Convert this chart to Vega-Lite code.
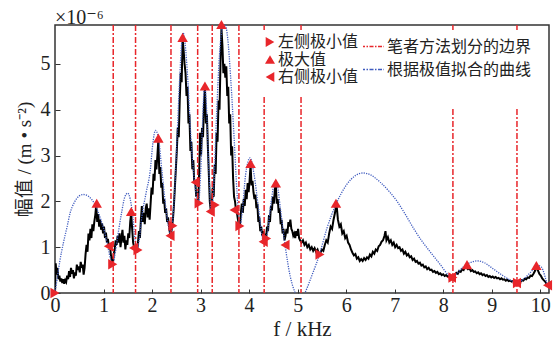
{
 "$schema": "https://vega.github.io/schema/vega-lite/v6.json",
 "width": 494, "height": 268,
 "autosize": {"type": "none"},
 "padding": {"left": 55, "top": 25, "right": 5, "bottom": 49},
 "background": "white",
 "title": {"text": "×10⁻⁶", "anchor": "start", "frame": "group", "font": "'Liberation Serif', 'DejaVu Serif', serif", "fontSize": 20, "fontWeight": "normal", "offset": 4, "dy": 12, "color": "#222"},
 "config": {"view": {"stroke": "#333", "strokeWidth": 1.5}},
 "datasets": {
  "spec": [
{"f":0.0,"a":0.0},{"f":0.015,"a":0.65},{"f":0.03,"a":0.4},{"f":0.05,"a":0.55},{"f":0.07,"a":0.3},{"f":0.09,"a":0.38},{"f":0.11,"a":0.25},{"f":0.13,"a":0.32},{"f":0.15,"a":0.22},{"f":0.17,"a":0.3},{"f":0.19,"a":0.2},{"f":0.21,"a":0.28},{"f":0.23,"a":0.24},{"f":0.25,"a":0.38},{"f":0.27,"a":0.3},{"f":0.29,"a":0.48},{"f":0.31,"a":0.35},{"f":0.33,"a":0.55},{"f":0.35,"a":0.42},{"f":0.37,"a":0.5},{"f":0.39,"a":0.32},{"f":0.41,"a":0.45},{"f":0.43,"a":0.38},{"f":0.45,"a":0.62},{"f":0.47,"a":0.5},{"f":0.49,"a":0.58},{"f":0.51,"a":0.45},{"f":0.53,"a":0.68},{"f":0.55,"a":0.55},{"f":0.57,"a":0.62},{"f":0.59,"a":0.4},{"f":0.61,"a":0.55},{"f":0.63,"a":0.85},{"f":0.65,"a":1.05},{"f":0.67,"a":0.9},{"f":0.69,"a":1.3},{"f":0.71,"a":1.15},{"f":0.73,"a":1.4},{"f":0.75,"a":1.2},{"f":0.77,"a":1.5},{"f":0.79,"a":1.35},{"f":0.81,"a":1.55},{"f":0.83,"a":1.7},{"f":0.85,"a":1.92},{"f":0.87,"a":1.55},{"f":0.89,"a":1.72},{"f":0.91,"a":1.45},{"f":0.93,"a":1.6},{"f":0.95,"a":1.38},{"f":0.97,"a":1.52},{"f":0.99,"a":1.3},{"f":1.01,"a":1.45},{"f":1.03,"a":1.2},{"f":1.05,"a":1.32},{"f":1.07,"a":1.1},{"f":1.09,"a":1.18},{"f":1.11,"a":1.02},{"f":1.13,"a":1.08},{"f":1.15,"a":0.85},{"f":1.17,"a":0.72},{"f":1.19,"a":0.62},{"f":1.21,"a":0.85},{"f":1.23,"a":0.95},{"f":1.25,"a":1.15},{"f":1.27,"a":1.05},{"f":1.29,"a":1.25},{"f":1.31,"a":1.1},{"f":1.33,"a":1.3},{"f":1.35,"a":1.0},{"f":1.37,"a":1.2},{"f":1.39,"a":1.38},{"f":1.41,"a":1.1},{"f":1.43,"a":1.25},{"f":1.45,"a":0.95},{"f":1.47,"a":1.15},{"f":1.49,"a":1.05},{"f":1.51,"a":1.3},{"f":1.53,"a":1.2},{"f":1.55,"a":1.55},{"f":1.57,"a":1.75},{"f":1.59,"a":1.4},{"f":1.61,"a":1.1},{"f":1.63,"a":1.0},{"f":1.65,"a":0.92},{"f":1.67,"a":1.05},{"f":1.69,"a":0.9},{"f":1.71,"a":1.1},{"f":1.73,"a":1.35},{"f":1.75,"a":1.2},{"f":1.77,"a":1.6},{"f":1.79,"a":1.9},{"f":1.81,"a":1.55},{"f":1.83,"a":1.75},{"f":1.85,"a":1.5},{"f":1.87,"a":1.85},{"f":1.89,"a":1.95},{"f":1.91,"a":1.65},{"f":1.93,"a":1.85},{"f":1.95,"a":1.6},{"f":1.97,"a":1.95},{"f":1.99,"a":2.3},{"f":2.01,"a":2.15},{"f":2.03,"a":2.6},{"f":2.05,"a":2.45},{"f":2.07,"a":2.9},{"f":2.09,"a":2.7},{"f":2.11,"a":3.0},{"f":2.13,"a":3.35},{"f":2.15,"a":2.6},{"f":2.17,"a":2.75},{"f":2.19,"a":2.3},{"f":2.21,"a":2.4},{"f":2.23,"a":1.95},{"f":2.25,"a":2.05},{"f":2.27,"a":1.75},{"f":2.29,"a":1.85},{"f":2.31,"a":1.55},{"f":2.33,"a":1.65},{"f":2.35,"a":1.45},{"f":2.37,"a":1.3},{"f":2.39,"a":1.25},{"f":2.41,"a":1.45},{"f":2.43,"a":1.6},{"f":2.45,"a":1.9},{"f":2.47,"a":2.3},{"f":2.49,"a":2.7},{"f":2.51,"a":3.1},{"f":2.53,"a":3.6},{"f":2.55,"a":3.4},{"f":2.57,"a":4.2},{"f":2.59,"a":4.8},{"f":2.61,"a":4.6},{"f":2.63,"a":5.55},{"f":2.65,"a":5.3},{"f":2.67,"a":5.0},{"f":2.69,"a":4.8},{"f":2.71,"a":4.3},{"f":2.73,"a":4.5},{"f":2.75,"a":3.7},{"f":2.77,"a":3.9},{"f":2.79,"a":3.1},{"f":2.81,"a":3.3},{"f":2.83,"a":2.7},{"f":2.85,"a":2.9},{"f":2.87,"a":2.4},{"f":2.89,"a":2.45},{"f":2.91,"a":2.1},{"f":2.93,"a":2.2},{"f":2.95,"a":1.95},{"f":2.97,"a":2.6},{"f":2.99,"a":3.5},{"f":3.01,"a":3.0},{"f":3.03,"a":3.6},{"f":3.05,"a":3.4},{"f":3.07,"a":4.1},{"f":3.09,"a":4.48},{"f":3.11,"a":3.7},{"f":3.13,"a":3.9},{"f":3.15,"a":3.2},{"f":3.17,"a":2.6},{"f":3.19,"a":2.0},{"f":3.21,"a":1.8},{"f":3.23,"a":1.9},{"f":3.25,"a":2.3},{"f":3.27,"a":2.1},{"f":3.29,"a":2.8},{"f":3.31,"a":2.6},{"f":3.33,"a":3.5},{"f":3.35,"a":3.3},{"f":3.37,"a":4.2},{"f":3.39,"a":4.0},{"f":3.41,"a":5.0},{"f":3.43,"a":5.78},{"f":3.45,"a":5.4},{"f":3.47,"a":4.8},{"f":3.49,"a":5.0},{"f":3.51,"a":4.7},{"f":3.53,"a":4.95},{"f":3.55,"a":4.3},{"f":3.57,"a":4.5},{"f":3.59,"a":3.7},{"f":3.61,"a":3.9},{"f":3.63,"a":3.0},{"f":3.65,"a":3.2},{"f":3.67,"a":2.5},{"f":3.69,"a":2.1},{"f":3.71,"a":2.0},{"f":3.73,"a":1.8},{"f":3.75,"a":1.75},{"f":3.77,"a":1.6},{"f":3.79,"a":1.5},{"f":3.81,"a":1.45},{"f":3.83,"a":1.75},{"f":3.85,"a":1.95},{"f":3.87,"a":1.75},{"f":3.89,"a":2.05},{"f":3.91,"a":1.9},{"f":3.93,"a":2.25},{"f":3.95,"a":2.05},{"f":3.97,"a":2.4},{"f":3.99,"a":2.2},{"f":4.01,"a":2.45},{"f":4.03,"a":2.8},{"f":4.05,"a":2.35},{"f":4.07,"a":2.45},{"f":4.09,"a":2.2},{"f":4.11,"a":2.05},{"f":4.13,"a":2.15},{"f":4.15,"a":1.85},{"f":4.17,"a":1.95},{"f":4.19,"a":1.55},{"f":4.21,"a":1.65},{"f":4.23,"a":1.35},{"f":4.25,"a":1.45},{"f":4.27,"a":1.25},{"f":4.29,"a":1.35},{"f":4.31,"a":1.15},{"f":4.33,"a":1.25},{"f":4.35,"a":1.2},{"f":4.37,"a":1.45},{"f":4.39,"a":1.35},{"f":4.41,"a":1.7},{"f":4.43,"a":1.55},{"f":4.45,"a":1.9},{"f":4.47,"a":1.8},{"f":4.49,"a":2.1},{"f":4.51,"a":1.95},{"f":4.53,"a":2.25},{"f":4.55,"a":2.38},{"f":4.57,"a":1.95},{"f":4.59,"a":2.05},{"f":4.61,"a":1.75},{"f":4.63,"a":1.85},{"f":4.65,"a":1.5},{"f":4.67,"a":1.6},{"f":4.69,"a":1.3},{"f":4.71,"a":1.4},{"f":4.73,"a":1.15},{"f":4.75,"a":1.25},{"f":4.77,"a":1.4},{"f":4.79,"a":1.3},{"f":4.81,"a":1.55},{"f":4.83,"a":1.45},{"f":4.85,"a":1.6},{"f":4.87,"a":1.4},{"f":4.89,"a":1.35},{"f":4.91,"a":1.25},{"f":4.93,"a":1.3},{"f":4.95,"a":1.2},{"f":4.97,"a":1.35},{"f":4.99,"a":1.25},{"f":5.01,"a":1.4},{"f":5.03,"a":1.2},{"f":5.05,"a":1.15},{"f":5.08,"a":1.1},{"f":5.11,"a":1.15},{"f":5.14,"a":1.05},{"f":5.17,"a":1.1},{"f":5.2,"a":1.0},{"f":5.23,"a":1.05},{"f":5.26,"a":0.95},{"f":5.29,"a":1.0},{"f":5.32,"a":0.92},{"f":5.35,"a":0.98},{"f":5.38,"a":0.9},{"f":5.41,"a":0.95},{"f":5.44,"a":0.85},{"f":5.47,"a":0.88},{"f":5.5,"a":0.95},{"f":5.53,"a":0.92},{"f":5.56,"a":1.05},{"f":5.59,"a":1.15},{"f":5.62,"a":1.1},{"f":5.65,"a":1.3},{"f":5.68,"a":1.45},{"f":5.71,"a":1.4},{"f":5.74,"a":1.6},{"f":5.77,"a":1.75},{"f":5.8,"a":1.95},{"f":5.83,"a":1.6},{"f":5.86,"a":1.45},{"f":5.89,"a":1.5},{"f":5.92,"a":1.3},{"f":5.95,"a":1.35},{"f":5.98,"a":1.2},{"f":6.01,"a":1.25},{"f":6.04,"a":1.1},{"f":6.07,"a":1.05},{"f":6.1,"a":0.95},{"f":6.13,"a":0.88},{"f":6.16,"a":0.82},{"f":6.19,"a":0.85},{"f":6.22,"a":0.75},{"f":6.25,"a":0.78},{"f":6.28,"a":0.7},{"f":6.31,"a":0.74},{"f":6.34,"a":0.7},{"f":6.37,"a":0.76},{"f":6.4,"a":0.72},{"f":6.43,"a":0.78},{"f":6.46,"a":0.75},{"f":6.49,"a":0.84},{"f":6.52,"a":0.8},{"f":6.55,"a":0.9},{"f":6.58,"a":0.86},{"f":6.61,"a":0.95},{"f":6.64,"a":0.92},{"f":6.67,"a":1.02},{"f":6.7,"a":1.05},{"f":6.73,"a":1.12},{"f":6.76,"a":1.15},{"f":6.79,"a":1.25},{"f":6.81,"a":1.35},{"f":6.83,"a":1.15},{"f":6.86,"a":1.22},{"f":6.89,"a":1.1},{"f":6.92,"a":1.15},{"f":6.95,"a":1.05},{"f":6.98,"a":1.1},{"f":7.01,"a":1.0},{"f":7.04,"a":1.05},{"f":7.07,"a":0.98},{"f":7.1,"a":1.0},{"f":7.13,"a":0.92},{"f":7.16,"a":0.95},{"f":7.19,"a":0.86},{"f":7.22,"a":0.9},{"f":7.25,"a":0.82},{"f":7.28,"a":0.85},{"f":7.31,"a":0.78},{"f":7.34,"a":0.8},{"f":7.37,"a":0.72},{"f":7.4,"a":0.75},{"f":7.43,"a":0.68},{"f":7.46,"a":0.7},{"f":7.49,"a":0.64},{"f":7.52,"a":0.66},{"f":7.55,"a":0.6},{"f":7.58,"a":0.62},{"f":7.61,"a":0.56},{"f":7.64,"a":0.58},{"f":7.67,"a":0.52},{"f":7.7,"a":0.55},{"f":7.73,"a":0.5},{"f":7.76,"a":0.51},{"f":7.79,"a":0.46},{"f":7.82,"a":0.48},{"f":7.85,"a":0.44},{"f":7.88,"a":0.46},{"f":7.91,"a":0.41},{"f":7.94,"a":0.43},{"f":7.97,"a":0.39},{"f":8.0,"a":0.41},{"f":8.03,"a":0.37},{"f":8.06,"a":0.39},{"f":8.09,"a":0.36},{"f":8.12,"a":0.37},{"f":8.15,"a":0.34},{"f":8.18,"a":0.33},{"f":8.21,"a":0.36},{"f":8.24,"a":0.4},{"f":8.27,"a":0.44},{"f":8.3,"a":0.42},{"f":8.33,"a":0.48},{"f":8.36,"a":0.46},{"f":8.39,"a":0.52},{"f":8.42,"a":0.5},{"f":8.45,"a":0.58},{"f":8.48,"a":0.56},{"f":8.51,"a":0.52},{"f":8.54,"a":0.54},{"f":8.57,"a":0.48},{"f":8.6,"a":0.5},{"f":8.63,"a":0.46},{"f":8.66,"a":0.47},{"f":8.69,"a":0.43},{"f":8.72,"a":0.45},{"f":8.75,"a":0.41},{"f":8.78,"a":0.43},{"f":8.81,"a":0.39},{"f":8.84,"a":0.41},{"f":8.87,"a":0.37},{"f":8.9,"a":0.39},{"f":8.93,"a":0.35},{"f":8.96,"a":0.37},{"f":8.99,"a":0.34},{"f":9.02,"a":0.36},{"f":9.05,"a":0.33},{"f":9.08,"a":0.35},{"f":9.11,"a":0.32},{"f":9.14,"a":0.33},{"f":9.17,"a":0.3},{"f":9.2,"a":0.32},{"f":9.23,"a":0.29},{"f":9.26,"a":0.3},{"f":9.29,"a":0.27},{"f":9.32,"a":0.29},{"f":9.35,"a":0.26},{"f":9.38,"a":0.27},{"f":9.41,"a":0.25},{"f":9.44,"a":0.26},{"f":9.47,"a":0.23},{"f":9.5,"a":0.24},{"f":9.53,"a":0.22},{"f":9.56,"a":0.25},{"f":9.59,"a":0.24},{"f":9.62,"a":0.28},{"f":9.65,"a":0.27},{"f":9.68,"a":0.31},{"f":9.71,"a":0.3},{"f":9.74,"a":0.34},{"f":9.77,"a":0.33},{"f":9.8,"a":0.38},{"f":9.83,"a":0.37},{"f":9.86,"a":0.42},{"f":9.89,"a":0.48},{"f":9.92,"a":0.56},{"f":9.94,"a":0.52},{"f":9.96,"a":0.47},{"f":9.98,"a":0.42},{"f":10.01,"a":0.38},{"f":10.04,"a":0.32},{"f":10.07,"a":0.28},{"f":10.1,"a":0.25},{"f":10.13,"a":0.2},{"f":10.16,"a":0.17}
  ],
  "fit": [
{"f":0.0,"a":0.0},{"f":0.05,"a":0.35},{"f":0.1,"a":0.7},{"f":0.17,"a":1.08},{"f":0.25,"a":1.45},{"f":0.31,"a":1.74},{"f":0.4,"a":1.98},{"f":0.5,"a":2.12},{"f":0.58,"a":2.15},{"f":0.66,"a":2.13},{"f":0.75,"a":2.05},{"f":0.86,"a":1.85},{"f":0.95,"a":1.58},{"f":1.03,"a":1.3},{"f":1.1,"a":0.95},{"f":1.15,"a":0.72},{"f":1.19,"a":0.64},{"f":1.23,"a":0.8},{"f":1.27,"a":1.08},{"f":1.37,"a":1.74},{"f":1.44,"a":2.1},{"f":1.5,"a":2.18},{"f":1.55,"a":2.05},{"f":1.6,"a":1.7},{"f":1.65,"a":1.15},{"f":1.69,"a":0.95},{"f":1.73,"a":1.12},{"f":1.79,"a":1.67},{"f":1.88,"a":2.2},{"f":1.96,"a":2.65},{"f":2.02,"a":3.3},{"f":2.07,"a":3.55},{"f":2.13,"a":3.4},{"f":2.2,"a":2.7},{"f":2.28,"a":1.9},{"f":2.34,"a":1.45},{"f":2.38,"a":1.3},{"f":2.42,"a":1.5},{"f":2.47,"a":2.3},{"f":2.52,"a":3.5},{"f":2.57,"a":4.7},{"f":2.61,"a":5.45},{"f":2.64,"a":5.68},{"f":2.68,"a":5.45},{"f":2.74,"a":4.6},{"f":2.8,"a":3.4},{"f":2.86,"a":2.6},{"f":2.91,"a":2.15},{"f":2.96,"a":2.0},{"f":3.0,"a":2.6},{"f":3.04,"a":3.7},{"f":3.08,"a":4.55},{"f":3.12,"a":4.1},{"f":3.17,"a":2.7},{"f":3.22,"a":1.75},{"f":3.27,"a":2.3},{"f":3.33,"a":3.9},{"f":3.39,"a":5.2},{"f":3.45,"a":5.8},{"f":3.5,"a":5.88},{"f":3.56,"a":5.55},{"f":3.62,"a":4.7},{"f":3.69,"a":3.4},{"f":3.75,"a":2.2},{"f":3.81,"a":1.45},{"f":3.86,"a":1.8},{"f":3.93,"a":2.6},{"f":4.02,"a":2.95},{"f":4.1,"a":2.6},{"f":4.2,"a":1.8},{"f":4.3,"a":1.12},{"f":4.36,"a":1.22},{"f":4.45,"a":1.95},{"f":4.53,"a":2.42},{"f":4.58,"a":2.35},{"f":4.65,"a":1.8},{"f":4.74,"a":1.05},{"f":4.85,"a":0.35},{"f":4.95,"a":0.0},{"f":5.05,"a":-0.2},{"f":5.15,"a":0.0},{"f":5.3,"a":0.4},{"f":5.45,"a":0.84},{"f":5.6,"a":1.4},{"f":5.8,"a":1.96},{"f":6.0,"a":2.35},{"f":6.2,"a":2.57},{"f":6.35,"a":2.62},{"f":6.5,"a":2.58},{"f":6.7,"a":2.42},{"f":6.9,"a":2.2},{"f":7.05,"a":2.0},{"f":7.2,"a":1.75},{"f":7.39,"a":1.41},{"f":7.55,"a":1.15},{"f":7.73,"a":0.9},{"f":7.94,"a":0.62},{"f":8.1,"a":0.4},{"f":8.18,"a":0.34},{"f":8.3,"a":0.45},{"f":8.45,"a":0.6},{"f":8.6,"a":0.68},{"f":8.7,"a":0.7},{"f":8.85,"a":0.66},{"f":9.0,"a":0.55},{"f":9.2,"a":0.4},{"f":9.4,"a":0.27},{"f":9.52,"a":0.22},{"f":9.65,"a":0.3},{"f":9.8,"a":0.45},{"f":9.95,"a":0.6},{"f":10.02,"a":0.57},{"f":10.1,"a":0.35},{"f":10.15,"a":0.15}
  ],
  "bd": [
{"f":1.20,"s":"笔者方法划分的边界"},{"f":1.66,"s":"笔者方法划分的边界"},{"f":2.39,"s":"笔者方法划分的边界"},{"f":2.94,"s":"笔者方法划分的边界"},{"f":3.24,"s":"笔者方法划分的边界"},{"f":3.79,"s":"笔者方法划分的边界"},{"f":4.31,"s":"笔者方法划分的边界"},{"f":5.07,"s":"笔者方法划分的边界"},{"f":8.20,"s":"笔者方法划分的边界"},{"f":9.52,"s":"笔者方法划分的边界"}
  ],
  "pts": [
{"f":0.0,"a":0.0,"t":"左侧极小值"},{"f":1.19,"a":0.63,"t":"左侧极小值"},{"f":1.71,"a":0.94,"t":"左侧极小值"},{"f":2.43,"a":1.47,"t":"左侧极小值"},{"f":2.97,"a":1.96,"t":"左侧极小值"},{"f":3.30,"a":1.92,"t":"左侧极小值"},{"f":3.81,"a":1.46,"t":"左侧极小值"},{"f":4.36,"a":1.19,"t":"左侧极小值"},{"f":5.46,"a":0.84,"t":"左侧极小值"},{"f":8.20,"a":0.34,"t":"左侧极小值"},{"f":9.53,"a":0.22,"t":"左侧极小值"},
{"f":0.86,"a":1.96,"t":"极大值"},{"f":1.57,"a":1.78,"t":"极大值"},{"f":2.13,"a":3.38,"t":"极大值"},{"f":2.63,"a":5.58,"t":"极大值"},{"f":3.09,"a":4.52,"t":"极大值"},{"f":3.43,"a":5.86,"t":"极大值"},{"f":4.03,"a":2.83,"t":"极大值"},{"f":4.55,"a":2.4,"t":"极大值"},{"f":5.79,"a":1.96,"t":"极大值"},{"f":8.49,"a":0.62,"t":"极大值"},{"f":9.92,"a":0.6,"t":"极大值"},
{"f":1.10,"a":1.02,"t":"右侧极小值"},{"f":1.62,"a":0.98,"t":"右侧极小值"},{"f":2.37,"a":1.25,"t":"右侧极小值"},{"f":2.89,"a":2.42,"t":"右侧极小值"},{"f":3.20,"a":1.78,"t":"右侧极小值"},{"f":3.69,"a":1.81,"t":"右侧极小值"},{"f":4.29,"a":1.12,"t":"右侧极小值"},{"f":4.74,"a":1.05,"t":"右侧极小值"},{"f":8.17,"a":0.34,"t":"右侧极小值"},{"f":9.51,"a":0.22,"t":"右侧极小值"},{"f":10.15,"a":0.17,"t":"右侧极小值"}
  ]
 },
 "encoding": {
  "x": {"field": "f", "type": "quantitative", "scale": {"domain": [0, 10.18], "nice": false, "zero": false},
   "axis": {"values": [0,1,2,3,4,5,6,7,8,9,10], "tickSize": -4, "tickColor": "#333", "labelPadding": 6, "labelFlush": false, "labelFont": "'Liberation Serif', 'DejaVu Serif', serif", "labelFontSize": 20, "labelColor": "#222", "grid": false, "domain": false,
    "title": "f / kHz", "titleFont": "'Liberation Serif', 'DejaVu Serif', serif", "titleFontSize": 21, "titleFontWeight": "normal", "titleColor": "#222", "titlePadding": 3}},
  "y": {"field": "a", "type": "quantitative", "scale": {"domain": [0, 5.85], "nice": false},
   "axis": {"values": [0,1,2,3,4,5], "tickSize": -5, "tickColor": "#333", "labelPadding": 10, "labelFont": "'Liberation Serif', 'DejaVu Serif', serif", "labelFontSize": 20, "labelColor": "#222", "grid": false, "domain": false,
    "title": "幅值 / (m • s⁻²)", "titleFont": "'Liberation Serif', 'Noto Sans CJK SC'", "titleFontSize": 19, "titleFontWeight": "normal", "titleColor": "#222", "titlePadding": 6}}
 },
 "layer": [
  {"data": {"name": "spec"}, "mark": {"type": "line", "color": "black", "strokeWidth": 2, "clip": true}},
  {"data": {"name": "fit"}, "mark": {"type": "line", "color": "#3f5bbf", "strokeWidth": 1.3, "strokeDash": [1.2, 1.2], "clip": true, "interpolate": "monotone"}},
  {"data": {"name": "bd"}, "mark": {"type": "rule", "strokeWidth": 1.5, "strokeDash": [6, 2, 2, 2]},
   "encoding": {"x": {"field": "f", "type": "quantitative"}, "y": null,
    "color": {"field": "s", "type": "nominal", "scale": {"domain": ["笔者方法划分的边界", "根据极值拟合的曲线"], "range": ["#e8262b", "#3f5bbf"]},
     "legend": {"orient": "none", "legendX": 301, "legendY": 5, "title": " ", "titleOrient": "bottom", "titleFontSize": 22, "titlePadding": 4, "symbolType": "stroke", "symbolSize": 529, "symbolStrokeWidth": 1.5, "labelFont": "'Liberation Serif', 'Noto Sans CJK SC'", "labelFontSize": 16, "labelColor": "#222", "labelOffset": 2, "rowPadding": 2, "padding": 4, "fillColor": "white", "symbolDash": [4, 1.5, 1.5, 1.5]}}}},
  {"data": {"name": "pts"}, "mark": {"type": "point", "filled": true, "opacity": 1, "size": 110, "color": "#e8262b", "clip": false},
   "encoding": {"shape": {"field": "t", "type": "nominal", "scale": {"domain": ["左侧极小值", "极大值", "右侧极小值"], "range": ["triangle-right", "triangle-up", "triangle-left"]},
     "legend": {"orient": "none", "legendX": 203, "legendY": 5, "title": " ", "titleOrient": "bottom", "titleFontSize": 6, "titlePadding": 2, "symbolSize": 100, "symbolFillColor": "#e8262b", "symbolStrokeColor": "#e8262b", "symbolStrokeWidth": 0, "labelFont": "'Liberation Serif', 'Noto Sans CJK SC'", "labelFontSize": 16, "labelColor": "#222", "labelOffset": 0, "rowPadding": 1.5, "padding": 4, "fillColor": "white"}}}}
 ]
}
